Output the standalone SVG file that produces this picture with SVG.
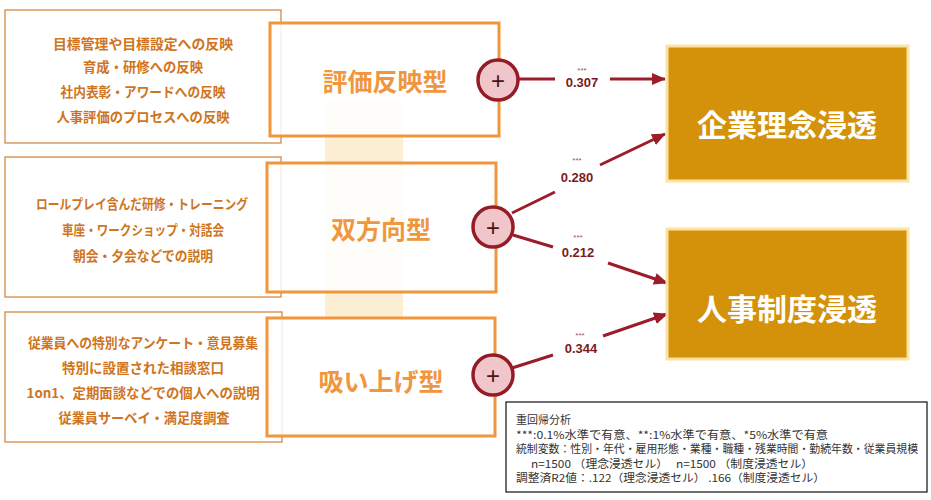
<svg xmlns="http://www.w3.org/2000/svg" width="931" height="500" viewBox="0 0 931 500">
<style>
.src{fill:#fff;stroke:#d28a45;stroke-width:1.3}
.srct{font-family:"Noto Sans CJK JP","Noto Sans",sans-serif;font-weight:bold;font-size:13.5px;fill:#cf7420;text-anchor:middle;dominant-baseline:central}
.mid{fill:#fff;fill-opacity:0.85;stroke:#f0963c;stroke-width:3}
.midt{font-family:"Noto Sans CJK JP","Noto Sans",sans-serif;font-weight:bold;font-size:25px;fill:#f0963c;text-anchor:middle;dominant-baseline:central}
.plus{fill:#f1c6ca;stroke:#951c26;stroke-width:3.5}
.plust{font-family:"Liberation Sans",Arial,sans-serif;font-size:24px;fill:#4a1414;text-anchor:middle;dominant-baseline:central}
.tgt{fill:#d4920a;stroke:#fbe3a6;stroke-width:3}
.tgtt{font-family:"Noto Sans CJK JP","Noto Sans",sans-serif;font-weight:bold;font-size:30px;fill:#fff;text-anchor:middle;dominant-baseline:central}
.ln{stroke:#9b1d2a;stroke-width:3;fill:none}
.val{font-family:"Liberation Sans",Arial,sans-serif;font-weight:bold;font-size:13px;fill:#7a1a22;text-anchor:middle}
.sig{font-family:"Liberation Sans",Arial,sans-serif;font-size:8px;fill:#9a5a5a;text-anchor:middle}
.note{font-family:"Noto Sans CJK JP","Noto Sans",sans-serif;font-size:11px;fill:#333;dominant-baseline:central}
</style>
<defs>
<marker id="ah" markerUnits="userSpaceOnUse" markerWidth="14" markerHeight="12" refX="13" refY="6" orient="auto">
<path d="M0,0 L14,6 L0,12 Z" fill="#9b1d2a"/>
</marker>
</defs>
<rect x="0" y="0" width="931" height="500" fill="#fff"/>
<rect x="325" y="100" width="78" height="218" fill="#fcefd3"/>

<g id="src1">
<rect class="src" x="5" y="10" width="276" height="133"/>
<text class="srct" x="143" y="43" textLength="180" lengthAdjust="spacingAndGlyphs">目標管理や目標設定への反映</text>
<text class="srct" x="143" y="66" textLength="120" lengthAdjust="spacingAndGlyphs">育成・研修への反映</text>
<text class="srct" x="143" y="91" textLength="165" lengthAdjust="spacingAndGlyphs">社内表彰・アワードへの反映</text>
<text class="srct" x="143" y="116" textLength="173" lengthAdjust="spacingAndGlyphs">人事評価のプロセスへの反映</text>
</g>
<g id="src2">
<rect class="src" x="5" y="157" width="276" height="140"/>
<text class="srct" x="142" y="203" textLength="212" lengthAdjust="spacingAndGlyphs">ロールプレイ含んだ研修・トレーニング</text>
<text class="srct" x="143" y="229" textLength="162" lengthAdjust="spacingAndGlyphs">車座・ワークショップ・対話会</text>
<text class="srct" x="143" y="255" textLength="140" lengthAdjust="spacingAndGlyphs">朝会・夕会などでの説明</text>
</g>
<g id="src3">
<rect class="src" x="5" y="312" width="277" height="130"/>
<text class="srct" x="143" y="342" textLength="230" lengthAdjust="spacingAndGlyphs">従業員への特別なアンケート・意見募集</text>
<text class="srct" x="143" y="367" textLength="162" lengthAdjust="spacingAndGlyphs">特別に設置された相談窓口</text>
<text class="srct" x="143" y="392" textLength="233" lengthAdjust="spacingAndGlyphs">1on1、定期面談などでの個人への説明</text>
<text class="srct" x="144" y="417" textLength="171" lengthAdjust="spacingAndGlyphs">従業員サーベイ・満足度調査</text>
</g>

<g id="type1">
<rect class="mid" x="270" y="23" width="229" height="113"/>
<text class="midt" x="385" y="80">評価反映型</text>
</g>
<g id="type2">
<rect class="mid" x="267" y="163" width="229" height="129"/>
<text class="midt" x="381" y="228">双方向型</text>
</g>
<g id="type3">
<rect class="mid" x="267" y="318" width="228" height="118"/>
<text class="midt" x="381" y="380">吸い上げ型</text>
</g>

<g id="connectors">
<line class="ln" x1="519" y1="79" x2="555" y2="79"/>
<line class="ln" x1="610" y1="79" x2="665" y2="79" marker-end="url(#ah)"/>
<line class="ln" x1="512" y1="213" x2="555" y2="192"/>
<line class="ln" x1="600" y1="165" x2="665" y2="134" marker-end="url(#ah)"/>
<line class="ln" x1="513" y1="235" x2="553" y2="247"/>
<line class="ln" x1="608" y1="263" x2="667" y2="283" marker-end="url(#ah)"/>
<line class="ln" x1="512" y1="368" x2="553" y2="355"/>
<line class="ln" x1="603" y1="336" x2="667" y2="314" marker-end="url(#ah)"/>
<text class="sig" x="582" y="73">***</text>
<text class="val" x="582" y="87">0.307</text>
<text class="sig" x="577" y="163">***</text>
<text class="val" x="577" y="182">0.280</text>
<text class="sig" x="578" y="240">***</text>
<text class="val" x="578" y="257">0.212</text>
<text class="sig" x="580" y="338">***</text>
<text class="val" x="581" y="353">0.344</text>
</g>

<g id="plus1">
<circle class="plus" cx="498" cy="80" r="20"/>
<text class="plust" x="498" y="80">+</text>
</g>
<g id="plus2">
<circle class="plus" cx="493" cy="227" r="20"/>
<text class="plust" x="493" y="227">+</text>
</g>
<g id="plus3">
<circle class="plus" cx="493" cy="375" r="20"/>
<text class="plust" x="493" y="375">+</text>
</g>

<g id="target1">
<rect class="tgt" x="667" y="46" width="241" height="135"/>
<text class="tgtt" x="787" y="123">企業理念浸透</text>
</g>
<g id="target2">
<rect class="tgt" x="667" y="229" width="241" height="130"/>
<text class="tgtt" x="787" y="307">人事制度浸透</text>
</g>

<g id="note">
<rect x="506" y="402" width="421" height="90" fill="#fff" stroke="#222" stroke-width="1.3"/>
<text class="note" x="516" y="419">重回帰分析</text>
<text class="note" x="516" y="433.5" textLength="312" lengthAdjust="spacingAndGlyphs">***:0.1%水準で有意、**:1%水準で有意、*5%水準で有意</text>
<text class="note" x="516" y="448" textLength="402" lengthAdjust="spacingAndGlyphs">統制変数：性別・年代・雇用形態・業種・職種・残業時間・勤続年数・従業員規模</text>
<text class="note" x="531" y="462.5" textLength="282" lengthAdjust="spacingAndGlyphs" xml:space="preserve">n=1500 （理念浸透セル）   n=1500 （制度浸透セル）</text>
<text class="note" x="516" y="477" textLength="309" lengthAdjust="spacingAndGlyphs">調整済R2値：.122（理念浸透セル） .166（制度浸透セル）</text>
</g>
</svg>
